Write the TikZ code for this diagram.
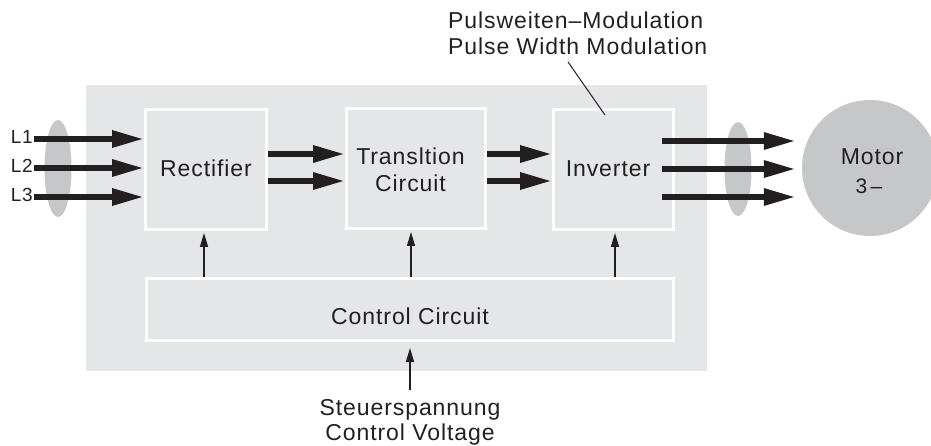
\documentclass[tikz,border=0pt]{standalone}
\usepackage{fontspec}
\setmainfont{Liberation Sans}[LetterSpace=4]
\usetikzlibrary{arrows.meta,shapes.geometric}
\definecolor{bg}{HTML}{E5E6E8}
\definecolor{ell}{HTML}{C6C7C9}
\definecolor{ink}{HTML}{231F20}
\begin{document}
\begin{tikzpicture}[x=1pt,y=-1pt,
  txt/.style={font=\fontsize{23}{27}\selectfont, text=ink, inner sep=0pt, anchor=base},
  box/.style={draw=white, line width=3pt, fill=bg, inner sep=0pt},
  fat/.style={draw=ink, line width=6pt, -{Triangle[length=32pt,width=16pt]}},
  thinarrow/.style={draw=ink, line width=1.4pt, -{Triangle[length=14pt,width=8pt]}},
  oval/.style={ellipse, fill=ell, inner sep=0pt, minimum width=27pt}]
\useasboundingbox (0,0) rectangle (931,446);
% panel
\node[fill=bg, inner sep=0pt, minimum width=621pt, minimum height=286pt] (panel) at (396.5,228) {};
% boxes
\node[box, minimum width=121pt, minimum height=120pt] (rect) at (206,169.5) {};
\node[box, minimum width=139pt, minimum height=120pt] (trans) at (416,168.5) {};
\node[box, minimum width=120pt, minimum height=120pt] (inv) at (613.5,169.5) {};
\node[box, minimum width=527pt, minimum height=62pt] (ctrl) at (410,309.5) {};
% texts in boxes
\node[txt] (trect) at (206,177) {Rectifier};
\node[txt] (ttr1) at (410.5,165) {Transltion};
\node[txt] (ttr2) at (410.5,192) {Circuit};
\node[txt] (tinv) at (608,177) {Inverter};
\node[txt] (tctrl) at (410,324) {Control Circuit};
% ellipses and motor
\node[oval, minimum height=97pt] (el1) at (58,168.5) {};
\node[oval, minimum height=94pt] (el2) at (738,169) {};
\node[circle, fill=ell, inner sep=0pt, minimum size=136pt] (motor) at (870,168) {};
\node[txt] (tmot) at (872,165) {Motor};
\node[text=ink, inner sep=0pt, anchor=base, font=\fontsize{21}{24}\selectfont] (tmot3) at (869,194) {3\,–};
% L labels
\node[txt, anchor=base east, font=\fontsize{19}{22}\selectfont] (L1) at (33,143.5) {L1};
\node[txt, anchor=base east, font=\fontsize{19}{22}\selectfont] (L2) at (33,172.5) {L2};
\node[txt, anchor=base east, font=\fontsize{19}{22}\selectfont] (L3) at (33,201.5) {L3};
\coordinate (a1) at (34,139);
\coordinate (a2) at (34,168);
\coordinate (a3) at (34,197);
\draw[fat] (a1) -- (a1 -| rect.west);
\draw[fat] (a2) -- (a2 -| rect.west);
\draw[fat] (a3) -- (a3 -| rect.west);
% between boxes
\coordinate (r1) at (0,154);
\coordinate (r2) at (0,181);
\draw[fat] (rect.east |- r1) -- (trans.west |- r1);
\draw[fat] (rect.east |- r2) -- (trans.west |- r2);
\draw[fat] (trans.east |- r1) -- (inv.west |- r1);
\draw[fat] (trans.east |- r2) -- (inv.west |- r2);
% to motor
\coordinate (o1) at (662,141);
\coordinate (o2) at (662,169);
\coordinate (o3) at (662,197);
\draw[fat, shorten >=6pt] (o1) -- (o1 -| motor.west);
\draw[fat, shorten >=6pt] (o2) -- (o2 -| motor.west);
\draw[fat, shorten >=6pt] (o3) -- (o3 -| motor.west);
% control arrows
\coordinate (c1) at (204,0);
\coordinate (c2) at (411,0);
\coordinate (c3) at (615,0);
\draw[thinarrow, shorten >=2pt] (c1 |- ctrl.north) -- (c1 |- rect.south);
\draw[thinarrow, shorten >=2pt] (c2 |- ctrl.north) -- (c2 |- trans.south);
\draw[thinarrow, shorten >=2pt] (c3 |- ctrl.north) -- (c3 |- inv.south);
\coordinate (sv) at (410,390);
\draw[thinarrow, shorten >=6pt] (sv) -- (sv |- ctrl.south);
\node[txt] (st1) at (410,415.5) {Steuerspannung};
\node[txt] (st2) at (410,440.5) {Control Voltage};
% PWM
\node[txt, anchor=base west] (pw1) at (448,29) {Pulsweiten–Modulation};
\node[txt, anchor=base west] (pw2) at (448,55) {Pulse Width Modulation};
\coordinate (lt) at (568,62);
\coordinate (lb) at (605,115);
\draw[ink, line width=1pt] (lt) -- (lb);
\end{tikzpicture}
\end{document}
